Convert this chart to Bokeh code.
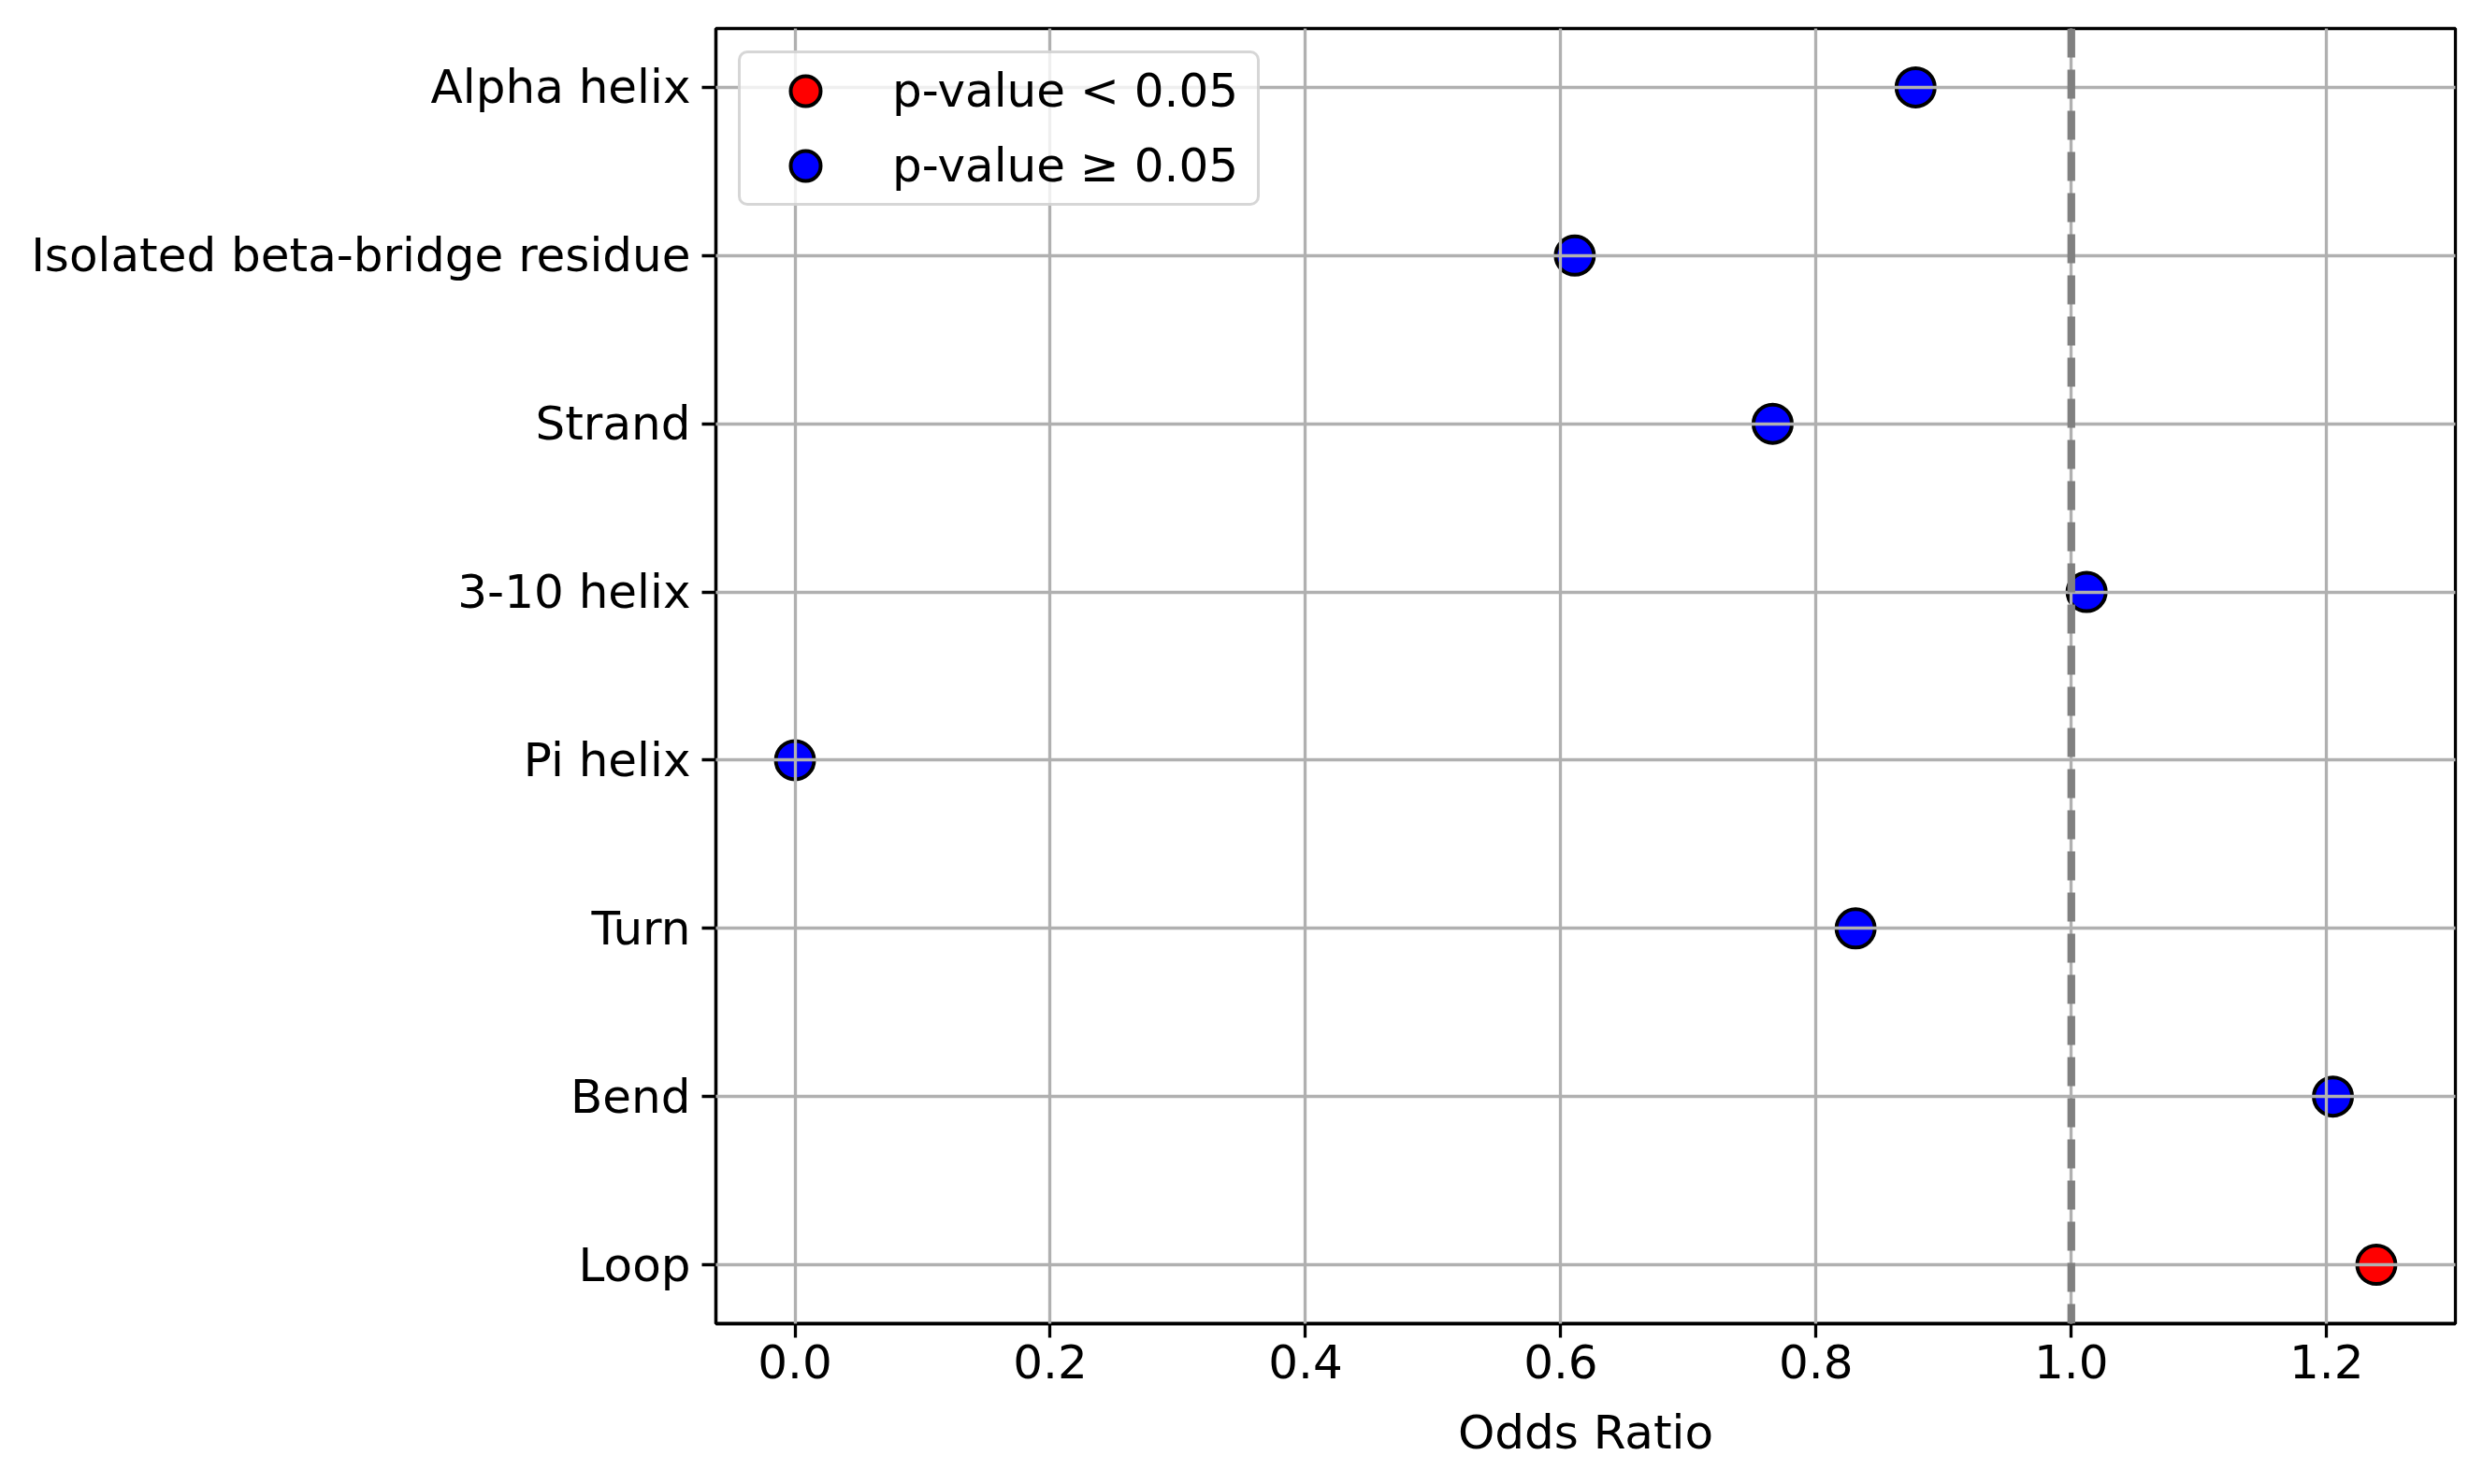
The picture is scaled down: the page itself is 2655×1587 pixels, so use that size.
from bokeh.plotting import figure
from bokeh.models import ColumnDataSource, Span, Range1d, FixedTicker, Legend, LegendItem
from bokeh.embed import file_html
from bokeh.resources import INLINE

# ---- data (top to bottom as shown) ----
categories = ["Alpha helix", "Isolated beta-bridge residue", "Strand", "3-10 helix",
              "Pi helix", "Turn", "Bend", "Loop"]
odds_ratio = [0.878, 0.611, 0.766, 1.012, 0.0, 0.831, 1.205, 1.239]
significant = [False, False, False, False, False, False, False, True]
x_ticks = [0.0, 0.2, 0.4, 0.6, 0.8, 1.0, 1.2]
reference_line = 1.0

n = len(categories)
ypos = [n - 1 - i for i in range(n)]

sig = dict(x=[v for v, s in zip(odds_ratio, significant) if s],
           y=[y for y, s in zip(ypos, significant) if s])
nsig = dict(x=[v for v, s in zip(odds_ratio, significant) if not s],
            y=[y for y, s in zip(ypos, significant) if not s])

xmin, xmax = min(odds_ratio), max(odds_ratio)
pad = 0.05 * (xmax - xmin)

FONT = "DejaVu Sans"

p = figure(output_backend="svg", toolbar_location=None,
           frame_width=1860, frame_height=1385,
           min_border_left=765, min_border_right=14, min_border_top=30, min_border_bottom=156,
           x_range=Range1d(xmin - pad, xmax + pad),
           y_range=Range1d(-0.35, n - 1 + 0.35))
p.background_fill_color = "white"
p.border_fill_color = "white"
p.outline_line_color = "black"
p.outline_line_width = 3.3

# axes
for ax in (p.xaxis[0], p.yaxis[0]):
    ax.axis_line_color = "black"
    ax.axis_line_width = 3.3
    ax.major_tick_line_color = "black"
    ax.major_tick_line_width = 3.3
    ax.major_tick_out = 15
    ax.major_tick_in = 0
    ax.minor_tick_line_color = None
    ax.major_label_text_font = FONT
    ax.major_label_text_font_size = "50px"
    ax.major_label_text_color = "black"
p.xaxis.major_label_standoff = 7
p.yaxis.major_label_standoff = 12

p.xaxis.ticker = FixedTicker(ticks=x_ticks)
p.xaxis.major_label_overrides = {t: f"{t:.1f}" for t in x_ticks}
p.xaxis.axis_label = "Odds Ratio"
p.xaxis.axis_label_text_font = FONT
p.xaxis.axis_label_text_font_size = "50px"
p.xaxis.axis_label_text_font_style = "normal"
p.xaxis.axis_label_text_color = "black"
p.xaxis.axis_label_standoff = 26

p.yaxis.ticker = FixedTicker(ticks=ypos)
p.yaxis.major_label_overrides = {y: c for y, c in zip(ypos, categories)}

# grid above points (as in the reference)
for g in (p.xgrid[0], p.ygrid[0]):
    g.grid_line_color = "#b0b0b0"
    g.grid_line_width = 3.3
    g.level = "guide"
p.xgrid.ticker = FixedTicker(ticks=x_ticks)
p.ygrid.ticker = FixedTicker(ticks=ypos)

r_sig = p.scatter("x", "y", source=ColumnDataSource(sig), size=41,
                  fill_color="red", line_color="black", line_width=4)
r_nsig = p.scatter("x", "y", source=ColumnDataSource(nsig), size=41,
                   fill_color="blue", line_color="black", line_width=4)

p.add_layout(Span(location=reference_line, dimension="height", line_color="gray",
                  line_width=8.3, line_dash="31 13"))

legend = Legend(items=[LegendItem(label="p-value < 0.05", renderers=[r_sig]),
                       LegendItem(label="p-value \u2265 0.05", renderers=[r_nsig])],
                location="top_left")
legend.margin = 24
legend.padding = 0
legend.glyph_width = 138
legend.glyph_height = 80
legend.spacing = 0
legend.label_standoff = 24
legend.label_width = 390
legend.label_text_font = FONT
legend.label_text_font_size = "50px"
legend.label_text_color = "black"
legend.border_line_color = "#cccccc"
legend.border_line_alpha = 0.8
legend.border_line_width = 3.3
legend.background_fill_color = "white"
legend.background_fill_alpha = 0.8
legend.border_radius = 10
p.add_layout(legend)

open("out.html", "w").write(file_html(p, INLINE))
